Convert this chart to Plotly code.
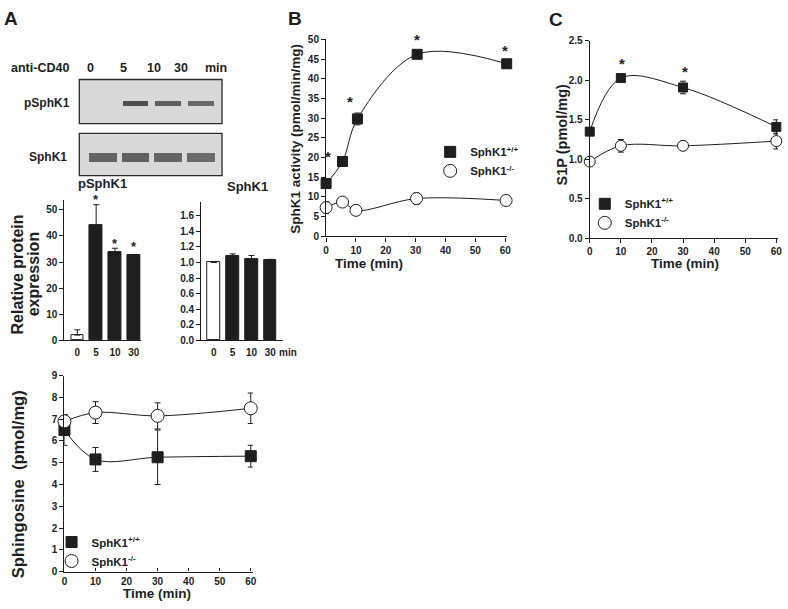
import plotly.graph_objects as go

W, H = 788, 609
FONT = "Liberation Sans, Arial, sans-serif"
INK = "#1e1e1e"


def fx(p):
    return p / W


def fy(p):
    return 1 - p / H


# ---------------- data ----------------
lanes = ["0", "5", "10", "30"]
lane_pos = [0, 1, 2, 3]
psphk1_rel = [2.0, 44.0, 34.0, 32.5]
psphk1_err = [2.0, 8.0, 1.3, 0.4]
psphk1_sig_y = [None, 53.8, 37.3, 36.1]
sphk1_rel = [1.00, 1.08, 1.04, 1.03]
sphk1_err = [0.01, 0.03, 0.05, 0.01]

blot_p_band = [0.0, 0.80, 0.70, 0.65]
blot_t_band = [0.70, 0.72, 0.70, 0.66]

sph_time = [0, 10, 30, 60]
sph_wt = [6.5, 5.15, 5.25, 5.3]
sph_wt_err = [0.7, 0.55, 1.25, 0.5]
sph_ko = [6.9, 7.3, 7.15, 7.5]
sph_ko_err = [0.3, 0.5, 0.6, 0.7]

act_time_wt = [0, 5.5, 10.5, 30.5, 60.5]
act_wt = [13.4, 19.0, 29.8, 46.2, 43.8]
act_wt_err = [0.5, 0.5, 1.5, 0.6, 0.5]
act_time_ko = [0, 5.5, 10, 30.3, 60.3]
act_ko = [7.3, 8.7, 6.6, 9.6, 9.1]
act_ko_err = [1.5, 0.5, 1.3, 1.4, 0.4]
act_sig_x = [0.5, 8, 30.4, 60]
act_sig_y = [19.9, 34.0, 49.7, 47.0]

s1p_time = [0, 10, 30, 60]
s1p_wt = [1.35, 2.03, 1.91, 1.41]
s1p_wt_err = [0.05, 0.03, 0.08, 0.09]
s1p_ko = [0.97, 1.17, 1.17, 1.23]
s1p_ko_err = [0.02, 0.08, 0.06, 0.10]
s1p_sig_x = [10.3, 30.5]
s1p_sig_y = [2.2, 2.1]

WT_NAME = "SphK1<sup>+/+</sup>"
KO_NAME = "SphK1<sup>-/-</sup>"

# ---------------- figure ----------------
fig = go.Figure()

# blots (bands drawn as bars on their own axes)
fig.add_trace(go.Bar(
    x=lane_pos, y=[0.13 if v > 0 else 0 for v in blot_p_band],
    base=[0.47 - 0.065] * 4, width=0.78,
    marker=dict(color=[f"rgba(45,45,45,{v})" for v in blot_p_band], line=dict(width=0)),
    xaxis="x6", yaxis="y6", showlegend=False, hoverinfo="skip"))
fig.add_trace(go.Bar(
    x=lane_pos, y=[0.22] * 4, base=[0.42 - 0.11] * 4, width=0.85,
    marker=dict(color=[f"rgba(50,50,50,{v})" for v in blot_t_band], line=dict(width=0)),
    xaxis="x7", yaxis="y7", showlegend=False, hoverinfo="skip"))

# bar charts
err_bar = dict(type="data", symmetric=False, color=INK, thickness=1, width=3)
fig.add_trace(go.Bar(
    x=lane_pos, y=psphk1_rel, width=0.66,
    marker=dict(color=["white", INK, INK, INK], line=dict(color=INK, width=1)),
    error_y=dict(err_bar, array=psphk1_err, arrayminus=[0] * 4),
    xaxis="x", yaxis="y", showlegend=False))
fig.add_trace(go.Bar(
    x=lane_pos, y=sphk1_rel, width=0.68,
    marker=dict(color=["white", INK, INK, INK], line=dict(color=INK, width=1)),
    error_y=dict(err_bar, array=sphk1_err, arrayminus=[0] * 4),
    xaxis="x2", yaxis="y2", showlegend=False))

line_style = dict(color=INK, width=1, shape="spline", smoothing=1.0)
err_pt = dict(type="data", color=INK, thickness=1, width=3)
sq = dict(symbol="square", size=10, color=INK, line=dict(color=INK, width=1))
ci = dict(symbol="circle", size=12, color="white", line=dict(color=INK, width=1))


def series(x, y, e, marker, xa, ya, size=None):
    m = dict(marker)
    if size:
        m["size"] = size
    fig.add_trace(go.Scatter(
        x=x, y=y, mode="lines+markers", line=line_style, marker=m,
        error_y=dict(err_pt, array=e), xaxis=xa, yaxis=ya,
        showlegend=False, cliponaxis=False))


def legend_items(legend, xa, ya, sqsize, cisize):
    fig.add_trace(go.Scatter(x=[None], y=[None], mode="markers", name=WT_NAME,
                             marker=dict(sq, size=sqsize), legend=legend, xaxis=xa, yaxis=ya))
    fig.add_trace(go.Scatter(x=[None], y=[None], mode="markers", name=KO_NAME,
                             marker=dict(ci, size=cisize), legend=legend, xaxis=xa, yaxis=ya))


# sphingosine
series(sph_time, sph_wt, sph_wt_err, sq, "x3", "y3", 11)
series(sph_time, sph_ko, sph_ko_err, ci, "x3", "y3", 13)
legend_items("legend3", "x3", "y3", 11, 13)
# B activity
series(act_time_wt, act_wt, act_wt_err, sq, "x4", "y4", 10)
series(act_time_ko, act_ko, act_ko_err, ci, "x4", "y4", 12)
legend_items("legend", "x4", "y4", 11, 13)
# C S1P
series(s1p_time, s1p_wt, s1p_wt_err, sq, "x5", "y5", 9)
series(s1p_time, s1p_ko, s1p_ko_err, ci, "x5", "y5", 11)
legend_items("legend2", "x5", "y5", 11, 13)

tickfont = dict(family=FONT, size=10, color=INK, weight="bold")
base_ax = dict(showline=True, linecolor=INK, linewidth=1.3, ticks="outside", ticklen=4,
               tickcolor=INK, tickwidth=1, showgrid=False, zeroline=False,
               tickfont=tickfont, fixedrange=True)
hidden = dict(visible=False, fixedrange=True)

P_BOT, P_TOP, P_MAX = 341, 198, 53.76

layout_axes = dict(
    # pSphK1 bars
    xaxis=dict(base_ax, domain=[fx(62), fx(139)], range=[-0.684, 3.37], anchor="y",
               tickvals=lane_pos, ticktext=lanes, tickcolor="rgba(0,0,0,0)", ticklen=3),
    yaxis=dict(base_ax, domain=[fy(P_BOT), fy(P_TOP)], range=[0, P_MAX], anchor="x",
               tickvals=[0, 10, 20, 30, 40, 50]),
    # SphK1 bars
    xaxis2=dict(base_ax, domain=[fx(200), fx(283)], range=[-0.668, 3.7], anchor="y2",
                tickvals=lane_pos, ticktext=lanes, tickcolor="rgba(0,0,0,0)", ticklen=3),
    yaxis2=dict(base_ax, domain=[fy(341), fy(200)], range=[0, 1.776], anchor="x2",
                tickvals=[0, 0.2, 0.4, 0.6, 0.8, 1.0, 1.2, 1.4, 1.6], tickformat=".1f"),
    # sphingosine
    xaxis3=dict(base_ax, domain=[fx(62), fx(252)], range=[0, 60.64], anchor="y3",
                tickvals=[0, 10, 20, 30, 40, 50, 60], ticks="inside", ticklen=3),
    yaxis3=dict(base_ax, domain=[fy(577), fy(377)], range=[0, 9], anchor="x3",
                tickvals=list(range(10))),
    # B
    xaxis4=dict(base_ax, domain=[fx(326), fx(509)], range=[0, 60.76], anchor="y4",
                tickvals=[0, 10, 20, 30, 40, 50, 60]),
    yaxis4=dict(base_ax, domain=[fy(235), fy(34)], range=[0, 50], anchor="x4",
                tickvals=list(range(0, 55, 5))),
    # C
    xaxis5=dict(base_ax, domain=[fx(592), fx(782)], range=[0, 60.55], anchor="y5",
                tickvals=[0, 10, 20, 30, 40, 50, 60]),
    yaxis5=dict(base_ax, domain=[fy(236.7), fy(35.7)], range=[0, 2.5], anchor="x5",
                tickvals=[0, 0.5, 1.0, 1.5, 2.0, 2.5], tickformat=".1f"),
    # blots
    xaxis6=dict(hidden, domain=[fx(77), fx(221)], range=[-0.727, 3.636], anchor="y6"),
    yaxis6=dict(hidden, domain=[fy(120), fy(75)], range=[0, 1], anchor="x6"),
    xaxis7=dict(hidden, domain=[fx(77), fx(221)], range=[-0.727, 3.636], anchor="y7"),
    yaxis7=dict(hidden, domain=[fy(173), fy(130)], range=[0, 1], anchor="x7"),
)

shapes = []
for ax in ("x6", "x7"):
    ya = "y" + ax[1:]
    shapes.append(dict(type="rect", xref=f"{ax} domain", yref=f"{ya} domain",
                       x0=0, x1=1, y0=0, y1=1, layer="below",
                       fillcolor="#d9d9d9", line=dict(color="#2a2a2a", width=1.3)))

ann = []


def txt(x, y, s, size=12, angle=0, ref=("paper", "paper"), yshift=0, xanchor="center"):
    ann.append(dict(x=x, y=y, xref=ref[0], yref=ref[1], text=s, showarrow=False,
                    textangle=angle, xanchor=xanchor, yanchor="middle", yshift=yshift,
                    font=dict(family=FONT, size=size, color=INK, weight="bold")))


# panel letters
txt(fx(8), fy(13), "A", 19)
txt(fx(295), fy(12.5), "B", 19)
txt(fx(558), fy(14), "C", 19)
# blot labels
txt(fx(37), fy(63), "anti-CD40", 12.5)
for lab, px in zip(lanes, [88, 122, 152, 180]):
    txt(fx(px), fy(63), lab, 12.5)
txt(fx(215), fy(63), "min", 12.5)
txt(fx(44), fy(99), "pSphK1", 12)
txt(fx(45), fy(154), "SphK1", 12)
# bar chart titles and labels
txt(fx(100), fy(181), "pSphK1", 13)
txt(fx(247), fy(184), "SphK1", 13)
txt(fx(288), fy(353), "min", 10)
txt(fx(15), fy(274), "Relative protein", 16, -90)
txt(fx(31), fy(274), "expression", 16, -90)
# axis titles
txt(fx(16), fy(488), "Sphingosine  (pmol/mg)", 16.5, -90)
txt(fx(155), fy(599), "Time (min)", 13.5)
txt(fx(295), fy(135), "SphK1 activity (pmol/min/mg)", 13.5, -90)
txt(fx(369), fy(263), "Time (min)", 13.5)
txt(fx(564), fy(131), "S1P (pmol/mg)", 14.5, -90)
txt(fx(688), fy(263), "Time (min)", 13.5)
# significance asterisks
AST_SHIFT = 1
for xp, yv in zip(lane_pos, psphk1_sig_y):
    if yv is not None:
        # placed in paper space so that marks above the axis top stay visible
        py = fy(P_BOT) + (yv / P_MAX) * (fy(P_TOP) - fy(P_BOT))
        ann.append(dict(x=xp, y=py, xref="x", yref="paper", text="*", showarrow=False,
                        yanchor="middle", yshift=0,
                        font=dict(family=FONT, size=13, color=INK, weight="bold")))
for xv, yv in zip(act_sig_x, act_sig_y):
    txt(xv, yv, "*", 15, ref=("x4", "y4"), yshift=AST_SHIFT)
for xv, yv in zip(s1p_sig_x, s1p_sig_y):
    txt(xv, yv, "*", 15, ref=("x5", "y5"), yshift=AST_SHIFT)

leg_common = dict(xanchor="left", yanchor="top", bgcolor="rgba(0,0,0,0)",
                  font=dict(family=FONT, size=11.5, color=INK, weight="bold"),
                  itemwidth=30, tracegroupgap=0, borderwidth=0)

fig.update_layout(
    width=W, height=H, margin=dict(l=0, r=0, t=0, b=0),
    paper_bgcolor="white", plot_bgcolor="rgba(0,0,0,0)",
    font=dict(family=FONT, color=INK),
    barmode="overlay", bargap=0,
    showlegend=True,
    legend=dict(leg_common, x=fx(431), y=fy(134)),
    legend2=dict(leg_common, x=fx(587), y=fy(187)),
    legend3=dict(leg_common, x=fx(49), y=fy(532)),
    shapes=shapes, annotations=ann,
    **layout_axes,
)

fig.write_html("out.html", config={"displayModeBar": False},
               post_script="document.body.style.margin='0px';")
